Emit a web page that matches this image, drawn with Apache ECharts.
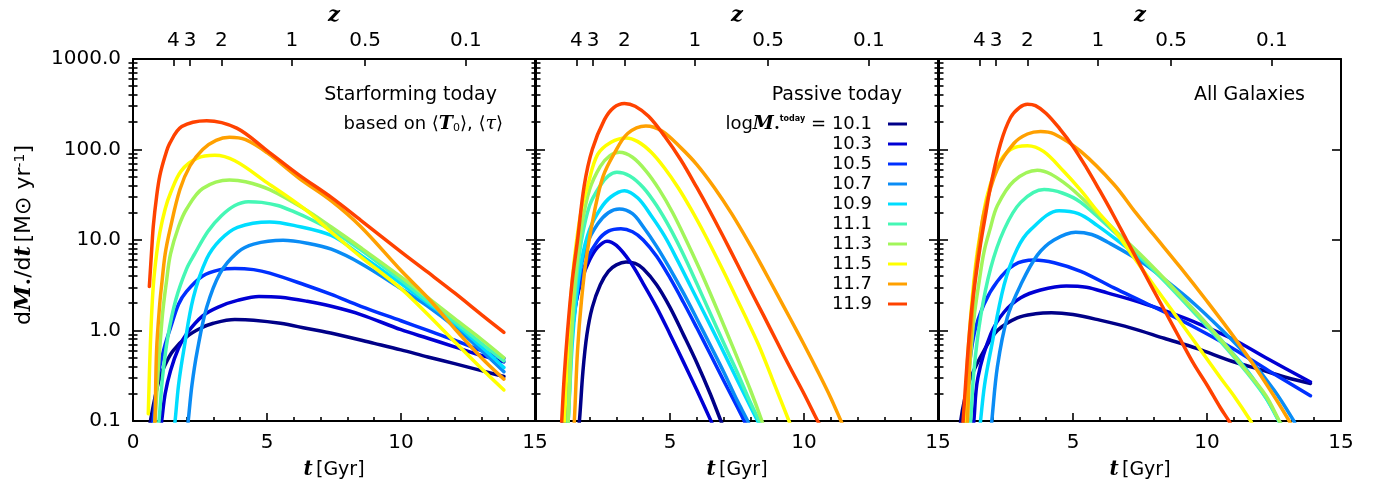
<!DOCTYPE html>
<html>
<head>
<meta charset="utf-8">
<script src="https://cdn.jsdelivr.net/npm/echarts@6/dist/echarts.min.js"></script>
<style>
  html, body { margin: 0; padding: 0; background: #fff; }
  #chart { width: 1387px; height: 487px; }
</style>
</head>
<body>
<div id="chart"></div>
<script>
// Stellar-mass bins (log M* today) and their line colours
const massBins = ['10.1', '10.3', '10.5', '10.7', '10.9', '11.1', '11.3', '11.5', '11.7', '11.9'];
const massColors = ['#000088', '#0000d4', '#0030ff', '#0a8cf5', '#00ddff', '#45f7b5', '#a2f55a', '#ffff00', '#ffa000', '#ff4200'];

// Redshift ticks on the top axis: cosmic age (Gyr) and the redshift printed there
const zTickAges = [1.51, 2.13, 3.30, 5.93, 8.66, 12.42];
const zTickLabels = ['4', '3', '2', '1', '0.5', '0.1'];

const panelTitles = ['Starforming today', 'Passive today', 'All Galaxies'];

// Star-formation histories, [t (Gyr), dM*/dt (Msun/yr)], one list per mass bin
const starformingSFR = [
  [[0.6,0.08],[0.65,0.1],[0.8,0.17],[1.0,0.3],[1.25,0.45],[1.5,0.6],[2.0,0.85],[2.5,1.05],[3.0,1.2],[3.8,1.32],[4.5,1.3],[5.5,1.2],[6.5,1.05],[7.5,0.92],[9.0,0.72],[10.0,0.61],[11.0,0.51],[12.0,0.43],[13.0,0.36],[13.84,0.31]],
  [[1.0,0.07],[1.07,0.1],[1.2,0.2],[1.4,0.36],[1.7,0.64],[2.0,0.92],[2.6,1.45],[3.25,1.85],[3.9,2.15],[4.7,2.38],[5.5,2.33],[6.5,2.1],[7.4,1.85],[8.5,1.5],[10.0,1.02],[11.0,0.82],[12.0,0.66],[13.0,0.53],[13.84,0.45]],
  [[0.68,0.07],[0.75,0.1],[0.85,0.2],[1.0,0.4],[1.2,0.7],[1.4,1.07],[1.7,1.95],[2.0,2.7],[2.6,4.0],[3.25,4.7],[3.8,4.85],[4.5,4.7],[5.1,4.3],[6.4,3.2],[7.4,2.5],[8.5,1.85],[10.0,1.28],[11.0,1.0],[12.0,0.78],[13.0,0.6],[13.84,0.49]],
  [[2.0,0.07],[2.06,0.1],[2.2,0.25],[2.4,0.6],[2.75,1.8],[3.25,4.3],[3.9,7.3],[4.5,9.0],[5.6,9.9],[6.5,9.2],[7.4,7.9],[8.5,5.5],[10.0,2.9],[11.0,1.85],[12.0,1.1],[13.0,0.6],[13.84,0.35]],
  [[1.5,0.07],[1.57,0.1],[1.7,0.25],[1.9,0.62],[2.25,2.3],[2.75,6.2],[3.25,10],[3.9,13.8],[5.1,15.8],[6.0,14.5],[7.4,11.2],[8.5,6.8],[10.0,3.3],[11.0,2.0],[12.0,1.2],[13.0,0.66],[13.84,0.39]],
  [[0.9,0.07],[0.97,0.1],[1.1,0.3],[1.3,0.85],[1.6,2.2],[2.0,4.8],[2.3,7.0],[2.8,12.5],[3.3,18.5],[3.8,24],[4.3,26.5],[4.8,26],[5.4,24],[6.0,20.5],[6.7,16.5],[7.4,12.8],[8.5,7.8],[10.0,3.6],[11.0,2.1],[12.0,1.25],[13.0,0.72],[13.84,0.46]],
  [[0.75,0.07],[0.82,0.1],[0.95,0.4],[1.1,1.5],[1.25,3.5],[1.4,7],[1.7,14],[2.0,22],[2.6,37],[3.6,46],[4.2,44],[5.1,36],[6.4,22],[7.4,13.9],[8.5,8.2],[10.0,3.9],[11.0,2.3],[12.0,1.35],[13.0,0.8],[13.84,0.5]],
  [[0.57,0.12],[0.62,0.4],[0.68,1.2],[0.76,3.2],[0.88,7],[1.0,12],[1.2,22],[1.4,33],[1.8,58],[2.4,80],[3.05,86],[3.8,75],[5.0,43],[6.4,22],[7.4,12.2],[8.5,6.5],[10.0,2.9],[11.0,1.5],[12.0,0.75],[13.0,0.38],[13.84,0.22]],
  [[0.78,0.07],[0.82,0.1],[0.88,0.6],[1.0,2.0],[1.07,3.2],[1.2,7],[1.38,13],[1.75,36],[2.13,66],[2.6,100],[3.1,126],[3.6,136],[4.2,128],[5.0,92],[6.2,48],[7.4,27],[8.5,14],[10.0,4.6],[11.0,2.3],[12.0,1.05],[13.0,0.5],[13.84,0.29]],
  [[0.61,3.06],[0.7,8],[0.76,14.5],[0.88,30],[1.0,51],[1.2,85],[1.38,118],[1.82,179],[2.75,208],[3.87,172],[5.0,97],[6.2,52],[7.4,29.5],[8.5,16.5],[10.0,7.4],[11.0,4.4],[12.0,2.6],[13.0,1.5],[13.84,0.95]]
];

const passiveSFR = [
  [[1.55,0.07],[1.62,0.1],[1.75,0.35],[1.9,0.9],[2.1,1.8],[2.4,3.2],[2.7,4.5],[3.0,5.3],[3.36,5.7],[3.7,5.5],[4.0,4.8],[4.5,3.2],[5.0,1.8],[5.5,0.9],[6.0,0.44],[6.5,0.2],[6.9,0.1],[7.0,0.085]],
  [[0.95,0.07],[1.0,0.1],[1.15,0.45],[1.3,1.0],[1.5,2.1],[1.7,3.6],[2.0,6.0],[2.3,8.3],[2.65,9.7],[3.0,8.7],[3.5,5.8],[4.0,3.3],[4.5,1.8],[5.0,0.91],[5.5,0.45],[6.0,0.22],[6.53,0.1],[6.6,0.09]],
  [[1.05,0.07],[1.1,0.1],[1.25,0.5],[1.4,1.3],[1.6,3.0],[1.9,6.0],[2.3,9.8],[2.7,12.5],[3.17,13.3],[3.6,12.3],[4.0,10],[4.5,6.6],[5.0,3.8],[5.5,2.05],[6.0,1.07],[6.5,0.55],[7.0,0.28],[7.5,0.145],[7.77,0.1],[7.85,0.09]],
  [[1.1,0.07],[1.15,0.1],[1.3,0.6],[1.45,1.8],[1.65,4.5],[1.9,9],[2.3,15],[2.7,20],[3.11,22],[3.6,19.5],[4.0,14],[4.5,8.5],[5.0,4.8],[5.5,2.6],[6.0,1.35],[6.5,0.69],[7.0,0.35],[7.5,0.17],[7.9,0.1],[8.0,0.085]],
  [[1.15,0.07],[1.2,0.1],[1.35,0.7],[1.5,2.2],[1.7,6],[2.0,13],[2.4,22],[2.8,30],[3.3,35],[3.8,29],[4.3,18.5],[4.8,11],[5.3,5.8],[5.8,2.95],[6.3,1.5],[6.8,0.76],[7.3,0.38],[7.8,0.19],[8.27,0.1],[8.35,0.09]],
  [[1.15,0.07],[1.2,0.1],[1.35,1.0],[1.5,3.5],[1.7,10],[2.0,24],[2.4,40],[2.7,51],[3.02,56],[3.5,51],[4.0,38],[4.5,24],[5.0,13.5],[5.5,6.9],[6.0,3.3],[6.5,1.55],[7.0,0.73],[7.5,0.35],[8.0,0.16],[8.33,0.1],[8.4,0.085]],
  [[1.15,0.07],[1.2,0.1],[1.35,1.2],[1.5,4.5],[1.7,14],[2.0,36],[2.4,65],[2.75,85],[3.11,93],[3.6,82],[4.1,58],[4.6,36],[5.1,20],[5.6,10],[6.1,4.8],[6.6,2.2],[7.1,0.98],[7.6,0.43],[8.0,0.22],[8.43,0.1],[8.5,0.085]],
  [[1.0,0.07],[1.06,0.1],[1.2,0.8],[1.35,3.5],[1.5,9],[1.7,22],[1.93,40],[2.3,88],[2.8,120],[3.36,134],[3.8,122],[4.3,93],[4.8,62],[5.3,38],[5.8,21.5],[6.3,11.5],[6.8,5.9],[7.3,2.95],[7.8,1.45],[8.3,0.7],[8.8,0.3],[9.44,0.1],[9.5,0.09]],
  [[1.38,0.07],[1.43,0.1],[1.55,0.6],[1.7,2.2],[1.9,7],[2.2,22],[2.5,50],[2.9,88],[3.42,150],[4.1,182],[4.7,160],[5.41,104],[6.0,68],[6.65,38],[7.3,19.5],[8.0,8.7],[8.5,4.7],[9.0,2.5],[9.5,1.33],[10.0,0.7],[10.5,0.36],[11.0,0.18],[11.38,0.1],[11.45,0.09]],
  [[0.93,0.07],[0.96,0.1],[1.05,0.3],[1.18,1.0],[1.35,3.5],[1.55,10],[1.8,40],[2.1,100],[2.55,212],[2.9,290],[3.3,322],[3.7,300],[4.2,232],[4.8,140],[5.4,77],[6.0,38],[6.5,20.5],[7.0,10.7],[7.5,5.5],[8.0,2.8],[8.5,1.45],[9.0,0.74],[9.5,0.38],[10.0,0.2],[10.51,0.1],[10.6,0.09]]
];

const allGalaxiesSFR = [
  [[0.78,0.07],[0.81,0.1],[0.95,0.17],[1.18,0.3],[1.68,0.6],[2.18,1.0],[2.92,1.38],[3.6,1.53],[4.2,1.57],[5.0,1.5],[6.0,1.3],[7.15,1.07],[8.4,0.82],[9.64,0.63],[10.9,0.46],[12.12,0.36],[13.0,0.3],[13.86,0.26]],
  [[1.25,0.07],[1.3,0.1],[1.45,0.3],[1.93,0.91],[2.43,1.6],[3.05,2.3],[3.79,2.8],[4.75,3.1],[5.5,3.0],[6.28,2.6],[7.5,2.05],[8.5,1.62],[9.5,1.25],[10.9,0.82],[12.3,0.48],[13.86,0.27]],
  [[0.9,0.07],[0.95,0.1],[1.05,0.25],[1.31,0.91],[1.68,1.95],[2.18,3.5],[2.8,5.3],[3.55,6.0],[4.3,5.6],[5.29,4.5],[6.53,2.95],[7.5,2.15],[8.5,1.55],[9.5,1.1],[10.9,0.65],[12.3,0.36],[13.86,0.19]],
  [[1.92,0.07],[1.97,0.1],[2.18,0.4],[2.55,1.4],[3.05,3.2],[3.67,6.8],[4.29,10],[5.1,12.2],[5.7,11.5],[6.28,9.5],[7.52,5.8],[8.5,3.5],[9.5,2.0],[10.5,1.05],[11.5,0.52],[12.5,0.22],[13.24,0.1],[13.3,0.09]],
  [[1.5,0.07],[1.55,0.1],[1.7,0.25],[1.93,0.6],[2.43,3.2],[2.92,8],[3.42,13],[4.48,21],[5.2,19.5],[5.9,14.5],[6.9,8.7],[7.52,6.3],[8.5,3.4],[9.5,1.7],[10.5,0.8],[11.5,0.36],[12.2,0.18],[12.68,0.1],[12.75,0.09]],
  [[1.12,0.07],[1.18,0.1],[1.3,0.35],[1.55,1.4],[1.93,4.9],[2.43,13],[3.05,26],[3.92,36],[4.6,33],[5.29,26],[6.53,12.3],[7.52,6.5],[8.5,3.3],[9.5,1.6],[10.5,0.76],[11.5,0.34],[12.2,0.18],[12.68,0.1],[12.75,0.09]],
  [[1.0,0.07],[1.05,0.1],[1.15,0.4],[1.31,1.4],[1.5,3.5],[1.68,7.4],[1.9,13],[2.18,24],[2.8,45],[3.67,59],[4.66,43],[5.9,20],[6.6,12.5],[7.5,7.0],[8.5,3.5],[9.5,1.7],[10.5,0.8],[11.5,0.35],[12.2,0.19],[12.7,0.1],[12.8,0.09]],
  [[0.9,0.07],[0.95,0.1],[1.05,0.4],[1.18,1.4],[1.3,3.5],[1.43,7.4],[1.6,15],[1.8,31],[2.18,66],[2.67,100],[3.3,110],[3.9,95],[4.66,57],[5.3,35],[5.9,21],[6.59,12.2],[7.34,6.0],[8.0,3.2],[8.5,2.0],[9.5,0.78],[10.5,0.3],[11.0,0.19],[11.63,0.1],[11.7,0.09]],
  [[1.0,0.07],[1.06,0.1],[1.15,0.5],[1.31,3.2],[1.5,9],[1.68,20],[2.18,61],[2.8,117],[3.3,148],[3.79,158],[4.3,148],[5.29,95],[6.53,41],[7.34,20],[8.0,11.5],[9.0,5.0],[10.0,2.1],[11.0,0.85],[12.0,0.32],[13.07,0.1],[13.15,0.085]],
  [[0.85,0.07],[0.9,0.1],[1.05,0.45],[1.2,1.5],[1.35,3.5],[1.55,9],[1.75,20],[1.93,40],[2.3,117],[2.67,225],[3.0,290],[3.3,316],[3.6,305],[4.0,250],[4.5,170],[5.0,108],[5.5,63],[6.0,35],[6.5,19],[7.0,10],[7.5,5.3],[8.0,2.8],[8.5,1.5],[9.0,0.8],[9.5,0.43],[10.0,0.25],[10.5,0.14],[10.82,0.1],[10.9,0.09]]
];

const panelData = [starformingSFR, passiveSFR, allGalaxiesSFR];

const FONT = 'DejaVu Sans';
const SERIF = 'DejaVu Serif';
const BLACK = '#000';
const gridLefts = [133, 536, 939];
const GRID_TOP = 55, GRID_W = 402, GRID_H = 366;

// minor tick positions (2..9 within each decade), in log10 units
const minorLog = [];
for (let d = -1; d < 3; d++) for (let k = 2; k < 10; k++) minorLog.push(d + Math.log10(k));

const frameLine = { show: true, onZero: false, lineStyle: { color: BLACK, width: 2 } };
const tickStyle = { color: BLACK, width: 1.6 };
const labelStyle = { fontFamily: FONT, fontSize: 20, color: BLACK };

const richAxis = {
  r: { fontFamily: FONT, fontSize: 19, color: BLACK },
  bi: { fontFamily: SERIF, fontStyle: 'italic', fontWeight: 'bold', fontSize: 20, color: BLACK }
};
const richYTitle = {
  r: { fontFamily: FONT, fontSize: 22, color: BLACK },
  bi: { fontFamily: SERIF, fontStyle: 'italic', fontWeight: 'bold', fontSize: 23, color: BLACK },
  sub: { fontFamily: FONT, fontSize: 13, color: BLACK, verticalAlign: 'bottom' },
  sup: { fontFamily: FONT, fontSize: 14, color: BLACK, verticalAlign: 'top' }
};

const grids = [], xAxes = [], yAxes = [], series = [];

panelData.forEach((curves, p) => {
  grids.push({ left: gridLefts[p], top: GRID_TOP, width: GRID_W, height: GRID_H, containLabel: false });

  // bottom: cosmic time
  xAxes.push({
    gridIndex: p, type: 'value', position: 'bottom', min: 0, max: 15, interval: 5,
    axisLine: frameLine,
    axisTick: { inside: true, length: 8, lineStyle: tickStyle },
    minorTick: { show: true, splitNumber: 5, length: 4, lineStyle: tickStyle },
    splitLine: { show: false }, minorSplitLine: { show: false },
    axisLabel: Object.assign({ margin: 12, formatter: v => (p > 0 && v === 0) ? '' : String(v) }, labelStyle),
    name: '{bi|t} {r|[Gyr]}', nameLocation: 'middle', nameGap: 39,
    nameTextStyle: { rich: richAxis }
  });
  // top: redshift
  xAxes.push({
    gridIndex: p, type: 'value', position: 'top', min: 0, max: 15,
    axisLine: frameLine,
    axisTick: { inside: true, length: 7, lineStyle: tickStyle, customValues: zTickAges },
    splitLine: { show: false },
    axisLabel: Object.assign({ margin: 8, customValues: zTickAges,
      formatter: v => zTickLabels[zTickAges.indexOf(v)] }, labelStyle),
    name: 'z', nameLocation: 'middle', nameGap: 30,
    nameTextStyle: { fontFamily: SERIF, fontStyle: 'italic', fontWeight: 'bold', fontSize: 21, color: BLACK }
  });

  const logAxis = (pos, withLabels) => ({
    gridIndex: p, type: 'log', logBase: 10, min: 0.1, max: 1000, position: pos,
    axisLine: frameLine,
    axisTick: { inside: true, length: 9, lineStyle: tickStyle },
    splitLine: { show: false },
    axisLabel: Object.assign({ show: withLabels, margin: 12, formatter: v => Number(v).toFixed(1) }, labelStyle)
  });
  const minorAxis = (pos) => ({
    gridIndex: p, type: 'value', min: -1, max: 3, position: pos,
    axisLine: { show: false },
    axisTick: { show: true, inside: true, length: 4.5, lineStyle: tickStyle, customValues: minorLog },
    axisLabel: { show: false }, splitLine: { show: false }
  });

  const left = logAxis('left', p === 0);
  if (p === 0) {
    left.name = '{r|d}{bi|M}{sub|•}{r|/d}{bi|t} {r|[M⊙ yr}{sup|-1}{r|]}';
    left.nameLocation = 'middle';
    left.nameRotate = 90;
    left.nameGap = 97;
    left.nameTextStyle = { rich: richYTitle, padding: [0, 0, 0, 10] };
  }
  yAxes.push(left, minorAxis('left'), logAxis('right', false), minorAxis('right'));

  curves.forEach((pts, k) => {
    series.push({
      type: 'line', name: massBins[k], xAxisIndex: 2 * p, yAxisIndex: 4 * p,
      data: pts, smooth: 0.35, showSymbol: false, symbol: 'none', clip: true,
      color: massColors[k],
      lineStyle: { width: 3.5, color: massColors[k], cap: 'round', join: 'round' },
      z: 2 + k * 0.01
    });
  });
});

const textEl = (x, y, text, size, extra) => ({
  type: 'text', x: x, y: y, z: 100,
  style: Object.assign({ text: text, fill: BLACK, font: size + 'px "' + FONT + '"', align: 'right', verticalAlign: 'middle' }, extra || {})
});

const option = {
  animation: false,
  backgroundColor: '#fff',
  grid: grids, xAxis: xAxes, yAxis: yAxes, series: series,
  legend: {
    data: massBins, orient: 'vertical', right: 480, top: 114, align: 'right',
    icon: 'rect', itemWidth: 19, itemHeight: 3, itemGap: 0, padding: 0, selectedMode: false,
    textStyle: { fontFamily: FONT, fontSize: 18, color: BLACK, lineHeight: 20, padding: [0, 11, 0, 0] }
  },
  graphic: [
    textEl(497, 95, panelTitles[0], 19),
    textEl(503, 124, '{r|based on ⟨}{bi|T}{sub|0}{r|⟩, ⟨}{it|τ}{r|⟩}', 18, {
      rich: {
        r: { fontFamily: FONT, fontSize: 18, fill: BLACK },
        bi: { fontFamily: SERIF, fontStyle: 'italic', fontWeight: 'bold', fontSize: 19, fill: BLACK },
        sub: { fontFamily: FONT, fontSize: 11, fill: BLACK, verticalAlign: 'bottom' },
        it: { fontFamily: SERIF, fontStyle: 'italic', fontSize: 19, fill: BLACK }
      }
    }),
    textEl(902, 95, panelTitles[1], 19),
    textEl(1305, 95, panelTitles[2], 19),
    textEl(826, 124, '{r|log}{bi|M}{sub|•}{sup|today}{r| =}', 18, {
      rich: {
        r: { fontFamily: FONT, fontSize: 18, fill: BLACK },
        bi: { fontFamily: SERIF, fontStyle: 'italic', fontWeight: 'bold', fontSize: 19, fill: BLACK },
        sub: { fontFamily: FONT, fontSize: 10, fill: BLACK, verticalAlign: 'bottom' },
        sup: { fontFamily: FONT, fontWeight: 'bold', fontSize: 8, fill: BLACK, verticalAlign: 'top' }
      }
    })
  ]
};

const chart = echarts.init(document.getElementById('chart'), null, { renderer: 'canvas' });
chart.setOption(option);
</script>
</body>
</html>
